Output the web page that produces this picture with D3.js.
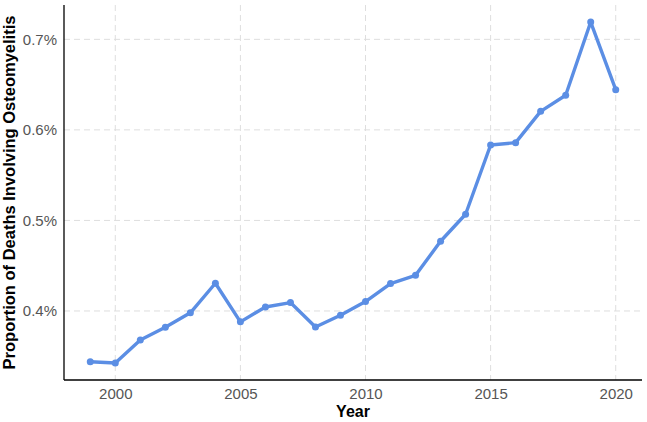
<!DOCTYPE html>
<html><head><meta charset="utf-8">
<script src="https://cdn.jsdelivr.net/npm/d3@7"></script>
<style>body{margin:0;background:#fff}svg{display:block}</style>
</head><body>
<script>
const years = [1999,2000,2001,2002,2003,2004,2005,2006,2007,2008,2009,2010,2011,2012,2013,2014,2015,2016,2017,2018,2019,2020];
const proportion = [0.344,0.3426,0.368,0.382,0.398,0.4306,0.388,0.4044,0.4093,0.3823,0.3953,0.4104,0.4303,0.4394,0.477,0.5068,0.5833,0.5859,0.6205,0.6382,0.7191,0.6444];
const xTicks = [2000,2005,2010,2015,2020];
const yTicks = [0.4,0.5,0.6,0.7];

const W=647,H=422;
const m={l:64,r:5,t:5,b:42};
const svg=d3.select("body").append("svg").attr("width",W).attr("height",H);
const ex=d3.extent(years), ey=d3.extent(proportion);
const dx=(ex[1]-ex[0])*0.05, dy=(ey[1]-ey[0])*0.05;
const x=d3.scaleLinear().domain([ex[0]-dx,ex[1]+dx]).range([m.l,W-m.r]);
const y=d3.scaleLinear().domain([ey[0]-dy,ey[1]+dy]).range([H-m.b,m.t]);

const grid=svg.append("g").attr("stroke","#dedede").attr("stroke-width",1).attr("stroke-dasharray","6,4");
grid.selectAll(".gx").data(xTicks).join("line").attr("x1",d=>x(d)).attr("x2",d=>x(d)).attr("y1",m.t).attr("y2",H-m.b);
grid.selectAll(".gy").data(yTicks).join("line").attr("y1",d=>y(d)).attr("y2",d=>y(d)).attr("x1",m.l).attr("x2",W-m.r);

const font="Liberation Sans, Arial, sans-serif";
const xa=svg.append("g").attr("transform",`translate(0,${H-m.b})`)
  .call(d3.axisBottom(x).tickValues(xTicks).tickFormat(d3.format("d")).tickSize(0).tickPadding(8));
const ya=svg.append("g").attr("transform",`translate(${m.l},0)`)
  .call(d3.axisLeft(y).tickValues(yTicks).tickFormat(d=>d.toFixed(1)+"%").tickSize(0).tickPadding(7));
[xa,ya].forEach(a=>{
  a.select(".domain").attr("stroke","#000").attr("stroke-width",1.3);
  a.selectAll("text").attr("font-family",font).attr("font-size",15).attr("fill","#555");
});
xa.select(".domain").attr("d",`M${m.l},0H${W-m.r}`);
ya.select(".domain").attr("d",`M0,${m.t}V${H-m.b}`);

const line=d3.line().x((d,i)=>x(years[i])).y(d=>y(d));
svg.append("path").datum(proportion).attr("d",line).attr("fill","none")
  .attr("stroke","#5b8ee4").attr("stroke-width",3.4).attr("stroke-linejoin","round");
svg.selectAll(".pt").data(proportion).join("circle").attr("cx",(d,i)=>x(years[i])).attr("cy",d=>y(d))
  .attr("r",3.5).attr("fill","#5b8ee4");

svg.append("text").attr("x",(m.l+W-m.r)/2).attr("y",417).attr("text-anchor","middle")
  .attr("font-family",font).attr("font-weight","bold").attr("font-size",16).text("Year");
svg.append("text").attr("transform",`translate(14.5,${(m.t+H-m.b)/2}) rotate(-90)`).attr("text-anchor","middle")
  .attr("font-family",font).attr("font-weight","bold").attr("font-size",16.5).text("Proportion of Deaths Involving Osteomyelitis");
</script>
</body></html>
